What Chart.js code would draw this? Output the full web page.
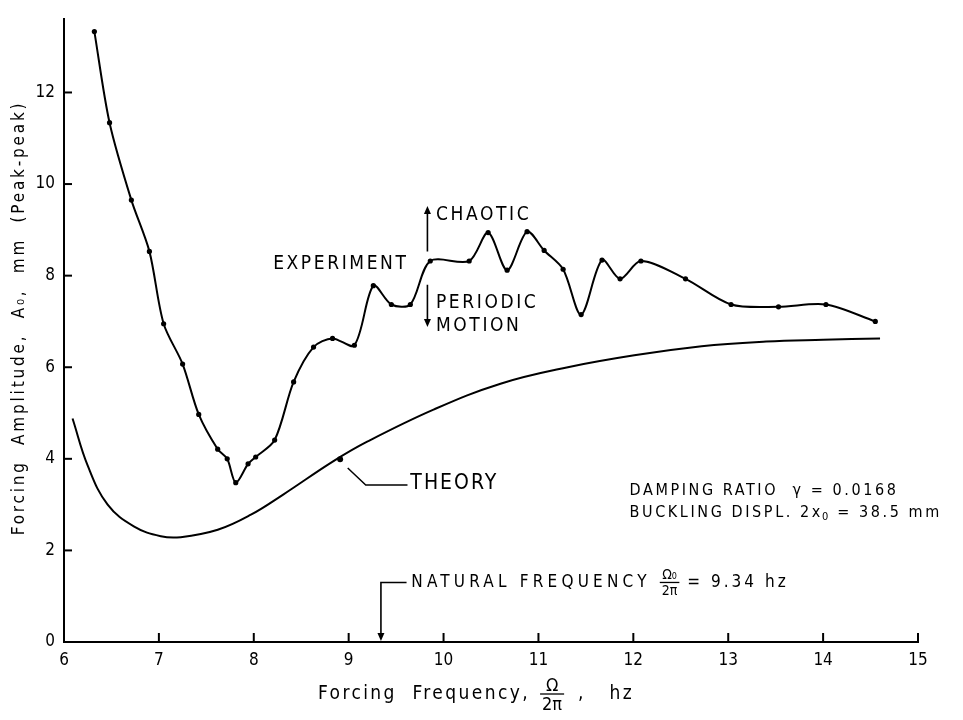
<!DOCTYPE html>
<html lang="en">
<head>
<meta charset="UTF-8">
<title>Forcing amplitude vs forcing frequency</title>
<script src="https://cdn.jsdelivr.net/npm/chart.js"></script>
<style>
    html, body { margin: 0; padding: 0; background: #fff; }
    #chart-container { width: 963px; height: 720px; }
</style>
</head>
<body>
<div id="chart-container"><canvas id="ampChart" width="963" height="720"></canvas></div>
<script>
// measured forcing amplitude (mm, peak-peak) against forcing frequency (hz)
const expFreq = [6.32, 6.48, 6.71, 6.90, 7.05, 7.25, 7.42, 7.62, 7.72, 7.81, 7.94, 8.02, 8.22, 8.42, 8.63, 8.83,
                 9.06, 9.26, 9.45, 9.65, 9.86, 10.27, 10.47, 10.67, 10.88, 11.06, 11.26, 11.45, 11.67, 11.86,
                 12.08, 12.55, 13.03, 13.53, 14.03, 14.55];
const expAmp = [13.33, 11.34, 9.65, 8.53, 6.95, 6.07, 4.97, 4.21, 4.00, 3.48, 3.89, 4.04, 4.41, 5.68, 6.44, 6.63,
                6.48, 7.78, 7.37, 7.37, 8.32, 8.32, 8.94, 8.12, 8.96, 8.55, 8.14, 7.15, 8.34, 7.93,
                8.32, 7.93, 7.37, 7.32, 7.37, 7.00];

// theoretical threshold curve
const theoryFreq = [6.09, 6.25, 6.46, 6.74, 7.02, 7.23, 7.62, 7.97, 8.31, 8.84, 9.20, 9.90, 10.60,
                    11.31, 12.01, 12.72, 13.40, 14.00, 14.60];
const theoryAmp = [4.88, 3.85, 3.00, 2.52, 2.31, 2.29, 2.45, 2.78, 3.22, 3.95, 4.38, 5.08, 5.64,
                   6.00, 6.26, 6.46, 6.56, 6.60, 6.63];

const xTicks = [6, 7, 8, 9, 10, 11, 12, 13, 14, 15];
const yTicks = [0, 2, 4, 6, 8, 10, 12];

const naturalFreq = 9.34;      // hz
const boundaryFreq = 9.83;     // chaotic / periodic boundary
const theoryMark = { x: 8.91, y: 3.99 };

const FONT = '"DejaVu Sans Condensed", "DejaVu Sans", sans-serif';

function setFont(ctx, size, spacing) {
    ctx.font = size + 'px ' + FONT;
    ctx.letterSpacing = spacing + 'px';
}

function drawFraction(ctx, x, yMid, num, den, size) {
    setFont(ctx, size, 0);
    const w = Math.max(ctx.measureText(num).width, ctx.measureText(den).width) + 4;
    ctx.textAlign = 'center';
    ctx.textBaseline = 'alphabetic';
    ctx.fillText(num, x + w / 2, yMid - 3);
    ctx.textBaseline = 'top';
    ctx.fillText(den, x + w / 2, yMid + 2);
    ctx.beginPath();
    ctx.moveTo(x, yMid);
    ctx.lineTo(x + w, yMid);
    ctx.lineWidth = 1.3;
    ctx.stroke();
    ctx.textAlign = 'left';
    ctx.textBaseline = 'middle';
    return w;
}

function arrowHead(ctx, x, y, dir) {
    // dir: 1 = pointing down, -1 = pointing up
    ctx.beginPath();
    ctx.moveTo(x, y);
    ctx.lineTo(x - 3.5, y - dir * 8);
    ctx.lineTo(x + 3.5, y - dir * 8);
    ctx.closePath();
    ctx.fill();
}

const labelsPlugin = {
    id: 'labelsPlugin',
    afterDraw(chart) {
        const ctx = chart.ctx;
        const xs = chart.scales.x, ys = chart.scales.y;
        const px = v => xs.getPixelForValue(v);
        const py = v => ys.getPixelForValue(v);
        const area = chart.chartArea;
        ctx.save();
        ctx.strokeStyle = '#000';
        ctx.fillStyle = '#000';
        ctx.lineWidth = 2;

        // inward tick marks
        xTicks.forEach(t => {
            ctx.beginPath();
            ctx.moveTo(px(t), area.bottom);
            ctx.lineTo(px(t), area.bottom - 9);
            ctx.stroke();
        });
        yTicks.forEach(t => {
            ctx.beginPath();
            ctx.moveTo(area.left, py(t));
            ctx.lineTo(area.left + 8, py(t));
            ctx.stroke();
        });

        ctx.textBaseline = 'middle';

        // EXPERIMENT / CHAOTIC / PERIODIC MOTION
        setFont(ctx, 19, 2.6);
        ctx.textAlign = 'right';
        ctx.fillText('EXPERIMENT', px(9.63), py(8.25));
        ctx.textAlign = 'left';
        ctx.fillText('CHAOTIC', px(9.92), py(9.33));
        ctx.fillText('PERIODIC', px(9.92), py(7.41));
        ctx.fillText('MOTION', px(9.92), py(6.91));

        ctx.lineWidth = 1.6;
        const bx = px(boundaryFreq);
        ctx.beginPath();
        ctx.moveTo(bx, py(9.40));
        ctx.lineTo(bx, py(8.53));
        ctx.moveTo(bx, py(7.80));
        ctx.lineTo(bx, py(6.98));
        ctx.stroke();
        arrowHead(ctx, bx, py(9.52), -1);
        arrowHead(ctx, bx, py(6.88), 1);

        // theory label with leader
        ctx.lineWidth = 1.5;
        ctx.beginPath();
        ctx.moveTo(px(8.99), py(3.80));
        ctx.lineTo(px(9.18), py(3.43));
        ctx.lineTo(px(9.62), py(3.43));
        ctx.stroke();
        setFont(ctx, 21, 2);
        ctx.fillText('THEORY', px(9.65), py(3.45));

        // parameters
        const lx = px(11.96);
        setFont(ctx, 16, 2.6);
        ctx.fillText('DAMPING RATIO  \u03B3 = 0.0168', lx, py(3.30));
        const bl = 'BUCKLING DISPL. 2x';
        ctx.fillText(bl, lx, py(2.83));
        const bw = ctx.measureText(bl).width;
        setFont(ctx, 11, 0);
        ctx.fillText('0', lx + bw - 1, py(2.83) + 5);
        setFont(ctx, 16, 2.6);
        ctx.fillText(' = 38.5 mm', lx + bw + 7, py(2.83));

        // natural frequency arrow
        const nx = px(naturalFreq), ny = py(1.30);
        ctx.lineWidth = 1.6;
        ctx.beginPath();
        ctx.moveTo(px(9.61), ny);
        ctx.lineTo(nx, ny);
        ctx.lineTo(nx, area.bottom - 9);
        ctx.stroke();
        arrowHead(ctx, nx, area.bottom - 1, 1);
        const nt = 'NATURAL FREQUENCY ';
        setFont(ctx, 17, 4.2);
        ctx.fillText(nt, px(9.66), ny);
        let cx = px(9.66) + ctx.measureText(nt).width;
        cx += drawFraction(ctx, cx, ny, '\u03A9\u2080', '2\u03C0', 14) + 8;
        setFont(ctx, 17, 3);
        ctx.fillText('= 9.34 hz', cx, ny);

        // x axis title
        const xt = 'Forcing  Frequency,';
        let tx = 318, ty = 694;
        setFont(ctx, 19, 2.4);
        ctx.fillText(xt, tx, ty);
        tx += ctx.measureText(xt).width + 10;
        tx += drawFraction(ctx, tx, ty, '\u03A9', '2\u03C0', 18) + 14;
        setFont(ctx, 19, 2.4);
        ctx.fillText(',   hz', tx, ty);

        // y axis title
        ctx.translate(20, 318);
        ctx.rotate(-Math.PI / 2);
        ctx.textAlign = 'center';
        setFont(ctx, 17, 2.8);
        ctx.fillText('Forcing  Amplitude,  A\u2080,  mm  (Peak-peak)', 0, 0);
        ctx.restore();
    }
};

const ctx = document.getElementById('ampChart').getContext('2d');
new Chart(ctx, {
    type: 'line',
    data: {
        datasets: [
            {
                label: 'Experiment',
                data: expFreq.map((f, i) => ({ x: f, y: expAmp[i] })),
                borderColor: '#000',
                borderWidth: 2,
                pointRadius: 2.6,
                pointBackgroundColor: '#000',
                pointBorderWidth: 0,
                tension: 0.3
            },
            {
                label: 'Theory',
                data: theoryFreq.map((f, i) => ({ x: f, y: theoryAmp[i] })),
                borderColor: '#000',
                borderWidth: 2,
                pointRadius: 0,
                tension: 0.4
            },
            {
                label: 'Theory point',
                data: [theoryMark],
                showLine: false,
                pointRadius: 3,
                pointBackgroundColor: '#000',
                pointBorderWidth: 0
            }
        ]
    },
    options: {
        responsive: false,
        animation: false,
        layout: { padding: { top: 13, right: 45, left: 0, bottom: 0 } },
        plugins: { legend: { display: false }, tooltip: { enabled: false } },
        scales: {
            x: {
                type: 'linear',
                min: 6,
                max: 15,
                grid: { display: false, drawTicks: false },
                border: { display: true, color: '#000', width: 2 },
                ticks: { stepSize: 1, padding: 8, color: '#000', font: { family: FONT, size: 17 } },
                afterFit(scale) { scale.height = 78; }
            },
            y: {
                min: 0,
                max: 13.6,
                grid: { display: false, drawTicks: false },
                border: { display: true, color: '#000', width: 2 },
                ticks: { stepSize: 2, includeBounds: false, padding: 9, color: '#000', font: { family: FONT, size: 17 } },
                afterFit(scale) { scale.width = 64; }
            }
        }
    },
    plugins: [labelsPlugin]
});
</script>
</body>
</html>
